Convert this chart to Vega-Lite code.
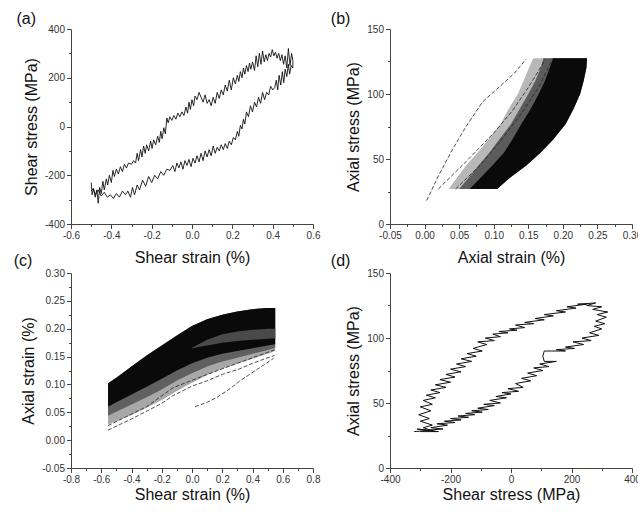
{
"$schema": "https://vega.github.io/schema/vega-lite/v6.json",
"background": "white",
"padding": {"left": 13, "top": 11, "right": 5, "bottom": 5},
"config": {
 "view": {"stroke": null},
 "axis": {"grid": false, "labelFont": "Liberation Sans", "labelFontSize": 10, "labelColor": "#333", "titleFont": "Liberation Sans", "titleFontSize": 16, "titleFontWeight": "normal", "titleColor": "#111", "domainColor": "#444", "tickColor": "#444", "labelPadding": 2, "labelFlush": false, "labelOverlap": false, "titlePadding": 5, "tickCount": 100},
 "title": {"font": "Liberation Sans", "fontSize": 16, "fontWeight": "normal", "anchor": "start", "frame": "bounds", "offset": -3, "color": "#111"}
},
"datasets": {
 "a": [
{"x":-0.500,"y":-230},{"x":-0.495,"y":-280},{"x":-0.488,"y":-255},{"x":-0.480,"y":-290},{"x":-0.472,"y":-260},{"x":-0.465,"y":-315},{"x":-0.458,"y":-250},{"x":-0.450,"y":-275},{"x":-0.442,"y":-225},{"x":-0.435,"y":-260},{"x":-0.425,"y":-215},{"x":-0.418,"y":-240},{"x":-0.410,"y":-200},{"x":-0.400,"y":-230},{"x":-0.392,"y":-180},{"x":-0.385,"y":-205},{"x":-0.375,"y":-175},{"x":-0.365,"y":-195},{"x":-0.355,"y":-165},{"x":-0.345,"y":-185},{"x":-0.335,"y":-155},{"x":-0.325,"y":-170},{"x":-0.315,"y":-150},{"x":-0.300,"y":-155},{"x":-0.290,"y":-140},{"x":-0.280,"y":-150},{"x":-0.272,"y":-110},{"x":-0.265,"y":-140},{"x":-0.255,"y":-95},{"x":-0.248,"y":-125},{"x":-0.240,"y":-80},{"x":-0.232,"y":-110},{"x":-0.225,"y":-75},{"x":-0.215,"y":-100},{"x":-0.205,"y":-60},{"x":-0.198,"y":-90},{"x":-0.190,"y":-55},{"x":-0.180,"y":-75},{"x":-0.170,"y":-40},{"x":-0.162,"y":-65},{"x":-0.155,"y":-20},{"x":-0.148,"y":-50},{"x":-0.140,"y":-5},{"x":-0.132,"y":-30},{"x":-0.125,"y":35},{"x":-0.118,"y":15},{"x":-0.110,"y":40},{"x":-0.100,"y":25},{"x":-0.090,"y":45},{"x":-0.080,"y":30},{"x":-0.070,"y":55},{"x":-0.060,"y":40},{"x":-0.050,"y":60},{"x":-0.040,"y":45},{"x":-0.030,"y":80},{"x":-0.022,"y":55},{"x":-0.015,"y":100},{"x":-0.008,"y":70},{"x":0.000,"y":110},{"x":0.008,"y":85},{"x":0.015,"y":125},{"x":0.025,"y":110},{"x":0.035,"y":140},{"x":0.045,"y":120},{"x":0.055,"y":100},{"x":0.065,"y":130},{"x":0.075,"y":95},{"x":0.085,"y":110},{"x":0.095,"y":85},{"x":0.105,"y":120},{"x":0.115,"y":95},{"x":0.125,"y":140},{"x":0.135,"y":115},{"x":0.145,"y":150},{"x":0.155,"y":130},{"x":0.165,"y":170},{"x":0.175,"y":145},{"x":0.185,"y":190},{"x":0.195,"y":150},{"x":0.205,"y":200},{"x":0.215,"y":175},{"x":0.225,"y":210},{"x":0.232,"y":185},{"x":0.240,"y":225},{"x":0.248,"y":200},{"x":0.255,"y":240},{"x":0.262,"y":215},{"x":0.270,"y":250},{"x":0.278,"y":225},{"x":0.285,"y":260},{"x":0.292,"y":235},{"x":0.300,"y":265},{"x":0.310,"y":230},{"x":0.318,"y":290},{"x":0.326,"y":245},{"x":0.334,"y":300},{"x":0.342,"y":255},{"x":0.350,"y":310},{"x":0.358,"y":265},{"x":0.366,"y":295},{"x":0.374,"y":270},{"x":0.382,"y":300},{"x":0.390,"y":285},{"x":0.398,"y":315},{"x":0.406,"y":290},{"x":0.414,"y":305},{"x":0.422,"y":280},{"x":0.430,"y":300},{"x":0.438,"y":270},{"x":0.446,"y":295},{"x":0.454,"y":255},{"x":0.462,"y":290},{"x":0.470,"y":240},{"x":0.478,"y":320},{"x":0.486,"y":250},{"x":0.494,"y":300},{"x":0.500,"y":270},{"x":0.500,"y":240},
{"x":0.492,"y":250},{"x":0.484,"y":215},{"x":0.478,"y":255},{"x":0.470,"y":205},{"x":0.462,"y":235},{"x":0.455,"y":180},{"x":0.448,"y":225},{"x":0.440,"y":170},{"x":0.432,"y":210},{"x":0.425,"y":150},{"x":0.418,"y":190},{"x":0.410,"y":160},{"x":0.400,"y":150},{"x":0.390,"y":165},{"x":0.380,"y":130},{"x":0.370,"y":140},{"x":0.360,"y":110},{"x":0.350,"y":140},{"x":0.340,"y":95},{"x":0.330,"y":120},{"x":0.320,"y":80},{"x":0.310,"y":100},{"x":0.300,"y":60},{"x":0.290,"y":85},{"x":0.280,"y":40},{"x":0.270,"y":60},{"x":0.262,"y":10},{"x":0.255,"y":30},{"x":0.248,"y":-10},{"x":0.240,"y":5},{"x":0.232,"y":-40},{"x":0.225,"y":-20},{"x":0.215,"y":-55},{"x":0.205,"y":-45},{"x":0.195,"y":-75},{"x":0.185,"y":-60},{"x":0.175,"y":-90},{"x":0.165,"y":-70},{"x":0.155,"y":-95},{"x":0.145,"y":-75},{"x":0.135,"y":-100},{"x":0.125,"y":-85},{"x":0.115,"y":-110},{"x":0.105,"y":-80},{"x":0.095,"y":-120},{"x":0.085,"y":-95},{"x":0.075,"y":-125},{"x":0.065,"y":-100},{"x":0.055,"y":-140},{"x":0.045,"y":-110},{"x":0.035,"y":-145},{"x":0.025,"y":-120},{"x":0.015,"y":-150},{"x":0.005,"y":-130},{"x":-0.005,"y":-165},{"x":-0.015,"y":-135},{"x":-0.025,"y":-160},{"x":-0.035,"y":-140},{"x":-0.045,"y":-175},{"x":-0.055,"y":-145},{"x":-0.065,"y":-170},{"x":-0.075,"y":-150},{"x":-0.085,"y":-185},{"x":-0.095,"y":-160},{"x":-0.110,"y":-180},{"x":-0.125,"y":-175},{"x":-0.140,"y":-200},{"x":-0.155,"y":-185},{"x":-0.170,"y":-215},{"x":-0.185,"y":-200},{"x":-0.200,"y":-230},{"x":-0.215,"y":-205},{"x":-0.230,"y":-245},{"x":-0.245,"y":-220},{"x":-0.260,"y":-260},{"x":-0.272,"y":-240},{"x":-0.285,"y":-280},{"x":-0.295,"y":-250},{"x":-0.305,"y":-290},{"x":-0.318,"y":-265},{"x":-0.330,"y":-280},{"x":-0.345,"y":-265},{"x":-0.360,"y":-290},{"x":-0.375,"y":-275},{"x":-0.390,"y":-295},{"x":-0.405,"y":-280},{"x":-0.420,"y":-290},{"x":-0.435,"y":-270},{"x":-0.450,"y":-285},{"x":-0.465,"y":-260},{"x":-0.478,"y":-280},{"x":-0.490,"y":-255},{"x":-0.500,"y":-265}
 ],
 "b_area": [
{"s":27,"sl":0.035,"ml":0.050,"dl":0.065,"r":0.105},
{"s":35,"sl":0.046,"ml":0.063,"dl":0.080,"r":0.122},
{"s":45,"sl":0.060,"ml":0.078,"dl":0.098,"r":0.147},
{"s":55,"sl":0.077,"ml":0.094,"dl":0.115,"r":0.168},
{"s":65,"sl":0.092,"ml":0.108,"dl":0.127,"r":0.186},
{"s":77,"sl":0.110,"ml":0.125,"dl":0.140,"r":0.204},
{"s":88,"sl":0.121,"ml":0.137,"dl":0.153,"r":0.215},
{"s":100,"sl":0.135,"ml":0.150,"dl":0.165,"r":0.225},
{"s":110,"sl":0.143,"ml":0.160,"dl":0.174,"r":0.230},
{"s":120,"sl":0.151,"ml":0.168,"dl":0.181,"r":0.234},
{"s":127.5,"sl":0.157,"ml":0.172,"dl":0.186,"r":0.235}
 ],
 "b_lines": [
{"k":1,"e":0.003,"s":18},{"k":1,"e":0.02,"s":37},{"k":1,"e":0.04,"s":57},{"k":1,"e":0.06,"s":75},{"k":1,"e":0.084,"s":94},{"k":1,"e":0.105,"s":104},{"k":1,"e":0.13,"s":116},{"k":1,"e":0.147,"s":127},
{"k":2,"e":0.02,"s":27},{"k":2,"e":0.06,"s":48},{"k":2,"e":0.10,"s":70},{"k":2,"e":0.127,"s":87},{"k":2,"e":0.15,"s":105},{"k":2,"e":0.165,"s":118},{"k":2,"e":0.175,"s":127},
{"k":3,"e":0.045,"s":27},{"k":3,"e":0.08,"s":45},{"k":3,"e":0.11,"s":64},{"k":3,"e":0.14,"s":85},{"k":3,"e":0.165,"s":105},{"k":3,"e":0.185,"s":127}
 ],
 "c_area": [
{"g":-0.555,"top":0.102,"l0":0.028,"lm":0.044,"l1":0.060},
{"g":-0.5,"top":0.112,"l0":0.034,"lm":0.051,"l1":0.068},
{"g":-0.4,"top":0.132,"l0":0.045,"lm":0.064,"l1":0.082},
{"g":-0.3,"top":0.152,"l0":0.058,"lm":0.077,"l1":0.096},
{"g":-0.2,"top":0.170,"l0":0.072,"lm":0.091,"l1":0.110},
{"g":-0.1,"top":0.188,"l0":0.088,"lm":0.107,"l1":0.125},
{"g":0.0,"top":0.205,"l0":0.103,"lm":0.120,"l1":0.138},
{"g":0.1,"top":0.217,"l0":0.117,"lm":0.132,"l1":0.148},
{"g":0.2,"top":0.225,"l0":0.128,"lm":0.141,"l1":0.155},
{"g":0.3,"top":0.231,"l0":0.137,"lm":0.148,"l1":0.160},
{"g":0.4,"top":0.235,"l0":0.146,"lm":0.155,"l1":0.165},
{"g":0.5,"top":0.237,"l0":0.155,"lm":0.162,"l1":0.170},
{"g":0.55,"top":0.237,"l0":0.160,"lm":0.166,"l1":0.172}
 ],
 "c_streak": [
{"g":0.0,"s1":0.165,"s2":0.166},
{"g":0.1,"s1":0.170,"s2":0.180},
{"g":0.2,"s1":0.175,"s2":0.190},
{"g":0.3,"s1":0.178,"s2":0.195},
{"g":0.4,"s1":0.180,"s2":0.198},
{"g":0.5,"s1":0.182,"s2":0.200},
{"g":0.55,"s1":0.183,"s2":0.200}
 ],
 "c_lines": [
{"k":1,"g":-0.555,"e":0.018},{"k":1,"g":-0.4,"e":0.038},{"k":1,"g":-0.2,"e":0.066},{"k":1,"g":-0.126,"e":0.080},{"k":1,"g":0.0,"e":0.097},{"k":1,"g":0.095,"e":0.106},{"k":1,"g":0.2,"e":0.118},{"k":1,"g":0.315,"e":0.128},{"k":1,"g":0.4,"e":0.138},{"k":1,"g":0.545,"e":0.152},
{"k":2,"g":-0.555,"e":0.026},{"k":2,"g":-0.3,"e":0.060},{"k":2,"g":-0.126,"e":0.094},{"k":2,"g":0.1,"e":0.118},{"k":2,"g":0.3,"e":0.138},{"k":2,"g":0.545,"e":0.162},
{"k":3,"g":0.02,"e":0.060},{"k":3,"g":0.1,"e":0.068},{"k":3,"g":0.16,"e":0.076},{"k":3,"g":0.25,"e":0.092},{"k":3,"g":0.315,"e":0.106},{"k":3,"g":0.42,"e":0.125},{"k":3,"g":0.54,"e":0.147}
 ],
 "d": [
{"t":-320,"s":28},{"t":-270,"s":29},{"t":-310,"s":30},{"t":-250,"s":28},{"t":-290,"s":31},{"t":-260,"s":33},{"t":-300,"s":36},{"t":-270,"s":38},{"t":-305,"s":41},{"t":-265,"s":44},{"t":-300,"s":47},{"t":-260,"s":49},{"t":-290,"s":52},{"t":-250,"s":54},{"t":-280,"s":56},{"t":-235,"s":58},{"t":-265,"s":60},{"t":-215,"s":62},{"t":-250,"s":64},{"t":-200,"s":66},{"t":-235,"s":68},{"t":-185,"s":70},{"t":-215,"s":72},{"t":-165,"s":74},{"t":-200,"s":76},{"t":-150,"s":78},{"t":-180,"s":80},{"t":-130,"s":82},{"t":-165,"s":84},{"t":-115,"s":86},{"t":-145,"s":88},{"t":-95,"s":90},{"t":-125,"s":92},{"t":-80,"s":95},{"t":-110,"s":97},{"t":-55,"s":98},{"t":-85,"s":100},{"t":-35,"s":101},{"t":-60,"s":103},{"t":-10,"s":104},{"t":-40,"s":105},{"t":20,"s":106},{"t":-5,"s":107},{"t":45,"s":108},{"t":15,"s":110},{"t":75,"s":111},{"t":45,"s":112},{"t":110,"s":114},{"t":80,"s":115},{"t":140,"s":117},{"t":110,"s":118},{"t":180,"s":120},{"t":150,"s":121},{"t":215,"s":123},{"t":185,"s":124},{"t":250,"s":126},{"t":220,"s":126},{"t":280,"s":127},{"t":250,"s":125},{"t":300,"s":124},{"t":270,"s":122},{"t":320,"s":120},{"t":285,"s":118},{"t":315,"s":116},{"t":280,"s":113},{"t":310,"s":111},{"t":275,"s":109},{"t":300,"s":107},
{"t":260,"s":104},{"t":290,"s":102},{"t":235,"s":100},{"t":265,"s":98},{"t":205,"s":97},{"t":240,"s":95},{"t":180,"s":93},{"t":210,"s":92},{"t":150,"s":91},{"t":180,"s":90},{"t":110,"s":90},{"t":105,"s":86},{"t":110,"s":82},{"t":150,"s":82},{"t":95,"s":80},{"t":125,"s":78},{"t":75,"s":77},{"t":105,"s":75},{"t":55,"s":73},{"t":85,"s":71},{"t":35,"s":69},{"t":65,"s":67},{"t":15,"s":65},{"t":40,"s":62},{"t":-10,"s":61},{"t":25,"s":59},{"t":-30,"s":58},{"t":0,"s":57},{"t":-50,"s":55},{"t":-15,"s":54},{"t":-70,"s":52},{"t":-35,"s":50},{"t":-90,"s":49},{"t":-55,"s":48},{"t":-110,"s":46},{"t":-75,"s":45},{"t":-130,"s":44},{"t":-95,"s":43},{"t":-150,"s":42},{"t":-120,"s":41},{"t":-175,"s":40},{"t":-140,"s":39},{"t":-200,"s":38},{"t":-165,"s":37},{"t":-220,"s":36},{"t":-185,"s":35},{"t":-245,"s":34},{"t":-210,"s":33},{"t":-265,"s":31},{"t":-225,"s":30},{"t":-285,"s":29},{"t":-240,"s":28},{"t":-300,"s":28}
 ]
},
"columns": 2,
"spacing": {"row": 49, "column": 77},
"bounds": "flush",
"concat": [
 {
  "width": 242, "height": 195,
  "title": {"text": "(a)", "dx": -7},
  "data": {"name": "a"},
  "mark": {"type": "line", "color": "#111", "strokeWidth": 0.9},
  "encoding": {
   "x": {"field": "x", "type": "quantitative", "title": "Shear strain (%)", "scale": {"domain": [-0.6, 0.6], "nice": false},
    "axis": {"tickCount": 100, "labelOverlap": false, "values": [-0.6,-0.5,-0.4,-0.3,-0.2,-0.1,0,0.1,0.2,0.3,0.4,0.5,0.6], "labelExpr": "round(datum.value*100)%20!=0 ? '' : (datum.value<0?'-':'') + format(abs(datum.value),'.1f')", "tickSize": {"condition": {"test": "round(datum.value*100)%20!=0", "value": 2.5}, "value": 4.5}, "titlePadding": 9}},
   "y": {"field": "y", "type": "quantitative", "title": "Shear stress (MPa)", "scale": {"domain": [-400, 400], "nice": false},
    "axis": {"tickCount": 100, "labelOverlap": false, "values": [-400,-300,-200,-100,0,100,200,300,400], "labelExpr": "datum.value%200!=0 ? '' : (datum.value<0?'-':'') + format(abs(datum.value),'d')", "tickSize": {"condition": {"test": "datum.value%200!=0", "value": 2.5}, "value": 4.5}}},
   "order": {"value": null}
  }
 },
 {
  "width": 242, "height": 195,
  "title": {"text": "(b)", "dx": -15},
  "layer": [
   {"data": {"name": "b_area"}, "mark": {"type": "area", "orient": "horizontal", "color": "#b8b8b8"},
    "encoding": {
     "y": {"field": "s", "type": "quantitative", "title": "Axial stress (MPa)", "scale": {"domain": [0, 150], "nice": false},
      "axis": {"tickCount": 100, "labelOverlap": false, "values": [0,25,50,75,100,125,150], "labelExpr": "datum.value%50!=0 ? '' : format(datum.value,'d')", "tickSize": {"condition": {"test": "datum.value%50!=0", "value": 2.5}, "value": 4.5}}},
     "x": {"field": "sl", "type": "quantitative", "title": "Axial strain (%)", "scale": {"domain": [-0.05, 0.3], "nice": false},
      "axis": {"tickCount": 100, "labelOverlap": false, "values": [-0.05,-0.025,0,0.025,0.05,0.075,0.1,0.125,0.15,0.175,0.2,0.225,0.25,0.275,0.3], "labelExpr": "round(datum.value*1000)%50!=0 ? '' : (datum.value<0?'-':'') + format(abs(datum.value),'.2f')", "tickSize": {"condition": {"test": "round(datum.value*1000)%50!=0", "value": 2.5}, "value": 4.5}, "titlePadding": 9}},
     "x2": {"field": "r"}
    }},
   {"data": {"name": "b_area"}, "mark": {"type": "area", "orient": "horizontal", "color": "#5c5c5c"},
    "encoding": {
     "y": {"field": "s", "type": "quantitative", "title": "Axial stress (MPa)"},
     "x": {"field": "ml", "type": "quantitative", "title": "Axial strain (%)"},
     "x2": {"field": "r"}
    }},
   {"data": {"name": "b_area"}, "mark": {"type": "area", "orient": "horizontal", "color": "#0a0a0a"},
    "encoding": {
     "y": {"field": "s", "type": "quantitative", "title": "Axial stress (MPa)"},
     "x": {"field": "dl", "type": "quantitative", "title": "Axial strain (%)"},
     "x2": {"field": "r"}
    }},
   {"data": {"name": "b_lines"}, "mark": {"type": "line", "color": "#222", "strokeWidth": 0.8, "strokeDash": [4, 2]},
    "encoding": {
     "y": {"field": "s", "type": "quantitative", "title": "Axial stress (MPa)"},
     "x": {"field": "e", "type": "quantitative", "title": "Axial strain (%)"},
     "detail": {"field": "k"},
     "order": {"value": null}
    }}
  ]
 },
 {
  "width": 242, "height": 195,
  "title": {"text": "(c)", "dx": -7, "dy": -2},
  "layer": [
   {"data": {"name": "c_area"}, "mark": {"type": "area", "color": "#a8a8a8"},
    "encoding": {
     "x": {"field": "g", "type": "quantitative", "title": "Shear strain (%)", "scale": {"domain": [-0.8, 0.8], "nice": false},
      "axis": {"tickCount": 100, "labelOverlap": false, "values": [-0.8,-0.7,-0.6,-0.5,-0.4,-0.3,-0.2,-0.1,0,0.1,0.2,0.3,0.4,0.5,0.6,0.7,0.8], "labelExpr": "round(datum.value*100)%20!=0 ? '' : (datum.value<0?'-':'') + format(abs(datum.value),'.1f')", "tickSize": {"condition": {"test": "round(datum.value*100)%20!=0", "value": 2.5}, "value": 4.5}, "titlePadding": 2}},
     "y": {"field": "l0", "type": "quantitative", "title": "Axial strain (%)", "scale": {"domain": [-0.05, 0.3], "nice": false},
      "axis": {"tickCount": 100, "labelOverlap": false, "values": [-0.05,-0.025,0,0.025,0.05,0.075,0.1,0.125,0.15,0.175,0.2,0.225,0.25,0.275,0.3], "labelExpr": "round(datum.value*1000)%50!=0 ? '' : (datum.value<0?'-':'') + format(abs(datum.value),'.2f')", "tickSize": {"condition": {"test": "round(datum.value*1000)%50!=0", "value": 2.5}, "value": 4.5}}},
     "y2": {"field": "top"}
    }},
   {"data": {"name": "c_area"}, "mark": {"type": "area", "color": "#606060"},
    "encoding": {
     "x": {"field": "g", "type": "quantitative", "title": "Shear strain (%)"},
     "y": {"field": "lm", "type": "quantitative", "title": "Axial strain (%)"},
     "y2": {"field": "top"}
    }},
   {"data": {"name": "c_area"}, "mark": {"type": "area", "color": "#0a0a0a"},
    "encoding": {
     "x": {"field": "g", "type": "quantitative", "title": "Shear strain (%)"},
     "y": {"field": "l1", "type": "quantitative", "title": "Axial strain (%)"},
     "y2": {"field": "top"}
    }},
   {"data": {"name": "c_streak"}, "mark": {"type": "area", "color": "#4a4a4a"},
    "encoding": {
     "x": {"field": "g", "type": "quantitative", "title": "Shear strain (%)"},
     "y": {"field": "s1", "type": "quantitative", "title": "Axial strain (%)"},
     "y2": {"field": "s2"}
    }},
   {"data": {"name": "c_lines"}, "mark": {"type": "line", "color": "#222", "strokeWidth": 0.8, "strokeDash": [4, 2]},
    "encoding": {
     "x": {"field": "g", "type": "quantitative", "title": "Shear strain (%)"},
     "y": {"field": "e", "type": "quantitative", "title": "Axial strain (%)"},
     "detail": {"field": "k"}
    }}
  ]
 },
 {
  "width": 242, "height": 195,
  "title": {"text": "(d)", "dx": -15, "dy": -2},
  "data": {"name": "d"},
  "mark": {"type": "line", "color": "#111", "strokeWidth": 1},
  "encoding": {
   "x": {"field": "t", "type": "quantitative", "title": "Shear stress (MPa)", "scale": {"domain": [-400, 400], "nice": false},
    "axis": {"tickCount": 100, "labelOverlap": false, "values": [-400,-300,-200,-100,0,100,200,300,400], "labelExpr": "datum.value%200!=0 ? '' : (datum.value<0?'-':'') + format(abs(datum.value),'d')", "tickSize": {"condition": {"test": "datum.value%200!=0", "value": 2.5}, "value": 4.5}, "titlePadding": 2}},
   "y": {"field": "s", "type": "quantitative", "title": "Axial stress (MPa)", "scale": {"domain": [0, 150], "nice": false},
    "axis": {"tickCount": 100, "labelOverlap": false, "values": [0,25,50,75,100,125,150], "labelExpr": "datum.value%50!=0 ? '' : format(datum.value,'d')", "tickSize": {"condition": {"test": "datum.value%50!=0", "value": 2.5}, "value": 4.5}}},
   "order": {"value": null}
  }
 }
]
}
